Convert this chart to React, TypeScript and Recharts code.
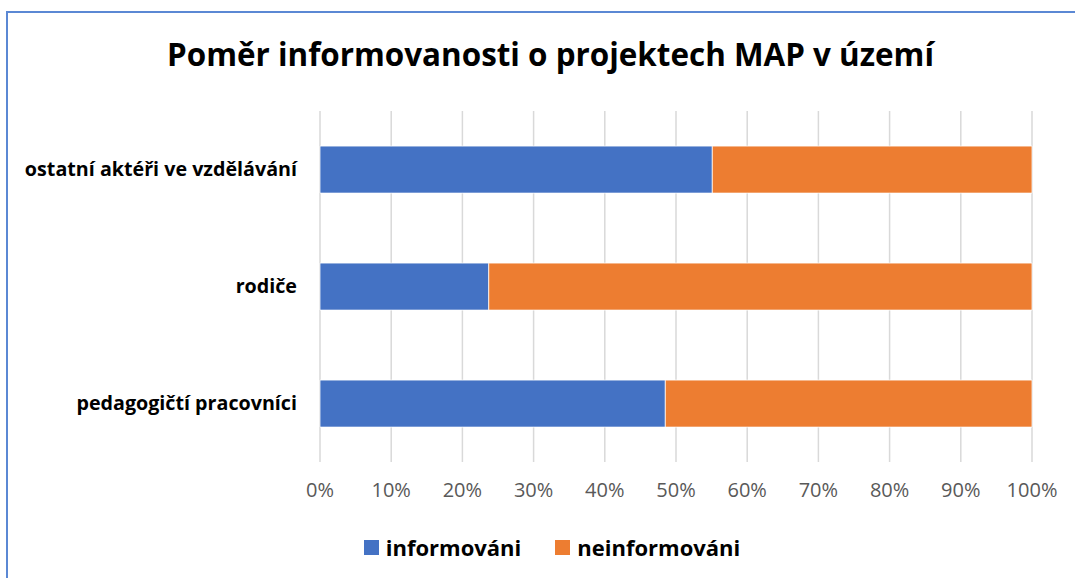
import { BarChart, Bar, XAxis, YAxis, CartesianGrid, Legend } from 'recharts';

const categories = ['ostatní aktéři ve vzdělávání', 'rodiče', 'pedagogičtí pracovníci'];
const informovani = [55.1, 23.7, 48.5];
const neinformovani = [44.9, 76.3, 51.5];
const xTicks = [0, 10, 20, 30, 40, 50, 60, 70, 80, 90, 100];

const seriesNames = { informovani: 'informováni', neinformovani: 'neinformováni' };
const BLUE = '#4472C4';
const ORANGE = '#ED7D31';
const FONT = '"Open Sans", sans-serif';

const data = categories.map((name, i) => ({
  name,
  informovani: informovani[i],
  neinformovani: neinformovani[i],
}));

function LegendBox() {
  const items = [
    { label: seriesNames.informovani, color: BLUE },
    { label: seriesNames.neinformovani, color: ORANGE },
  ];
  return (
    <div style={{ display: 'flex', justifyContent: 'center', alignItems: 'center', gap: 34, paddingLeft: 72, fontFamily: FONT }}>
      {items.map((it) => (
        <div key={it.label} style={{ display: 'flex', alignItems: 'center', gap: 7 }}>
          <span style={{ width: 15, height: 15, background: it.color, display: 'inline-block' }} />
          <span style={{ fontSize: 22, fontWeight: 700, color: '#000' }}>{it.label}</span>
        </div>
      ))}
    </div>
  );
}

export default function App() {
  return (
    <div style={{ position: 'absolute', left: 0, top: 0, width: 1075, height: 578, background: '#fff', overflow: 'hidden' }}>
      {/* chart frame: only the left and top edges are visible in the crop */}
      <div
        style={{
          position: 'absolute',
          left: 6,
          top: 11,
          width: 1200,
          height: 700,
          borderLeft: '2px solid #5b88d4',
          borderTop: '2px solid #5b88d4',
        }}
      />
      <div
        style={{
          position: 'absolute',
          left: 0,
          width: 1101,
          top: 33,
          textAlign: 'center',
          fontFamily: FONT,
          fontWeight: 700,
          fontSize: 31.4,
          lineHeight: '42px',
          color: '#000',
        }}
      >
        Poměr informovanosti o projektech MAP v území
      </div>
      <div style={{ position: 'absolute', left: 0, top: 0 }}>
        <BarChart
          width={1075}
          height={578}
          data={data}
          layout="vertical"
          barCategoryGap="30%"
          margin={{ top: 111, right: 43, bottom: 36, left: 0 }}
        >
          <CartesianGrid horizontal={false} vertical stroke="#d9d9d9" strokeWidth={1.5} />
          <XAxis
            type="number"
            domain={[0, 100]}
            ticks={xTicks}
            tickFormatter={(v) => `${v}%`}
            axisLine={false}
            tickLine={false}
            tickSize={0}
            tickMargin={21}
            height={40}
            interval={0}
            tick={{ fontFamily: FONT, fontSize: 20, fill: '#595959' }}
          />
          <YAxis
            type="category"
            dataKey="name"
            width={320}
            axisLine={false}
            tickLine={false}
            tickSize={0}
            tickMargin={23}
            tick={{ fontFamily: FONT, fontSize: 19.7, fontWeight: 700, fill: '#000' }}
          />
          <Legend verticalAlign="bottom" height={40} wrapperStyle={{ top: 532, bottom: 'auto' }} content={() => <LegendBox />} />
          <Bar dataKey="informovani" stackId="a" name={seriesNames.informovani} fill={BLUE} stroke="#fff" strokeWidth={0.75} isAnimationActive={false} />
          <Bar dataKey="neinformovani" stackId="a" name={seriesNames.neinformovani} fill={ORANGE} stroke="#fff" strokeWidth={0.75} isAnimationActive={false} />
        </BarChart>
      </div>
    </div>
  );
}
